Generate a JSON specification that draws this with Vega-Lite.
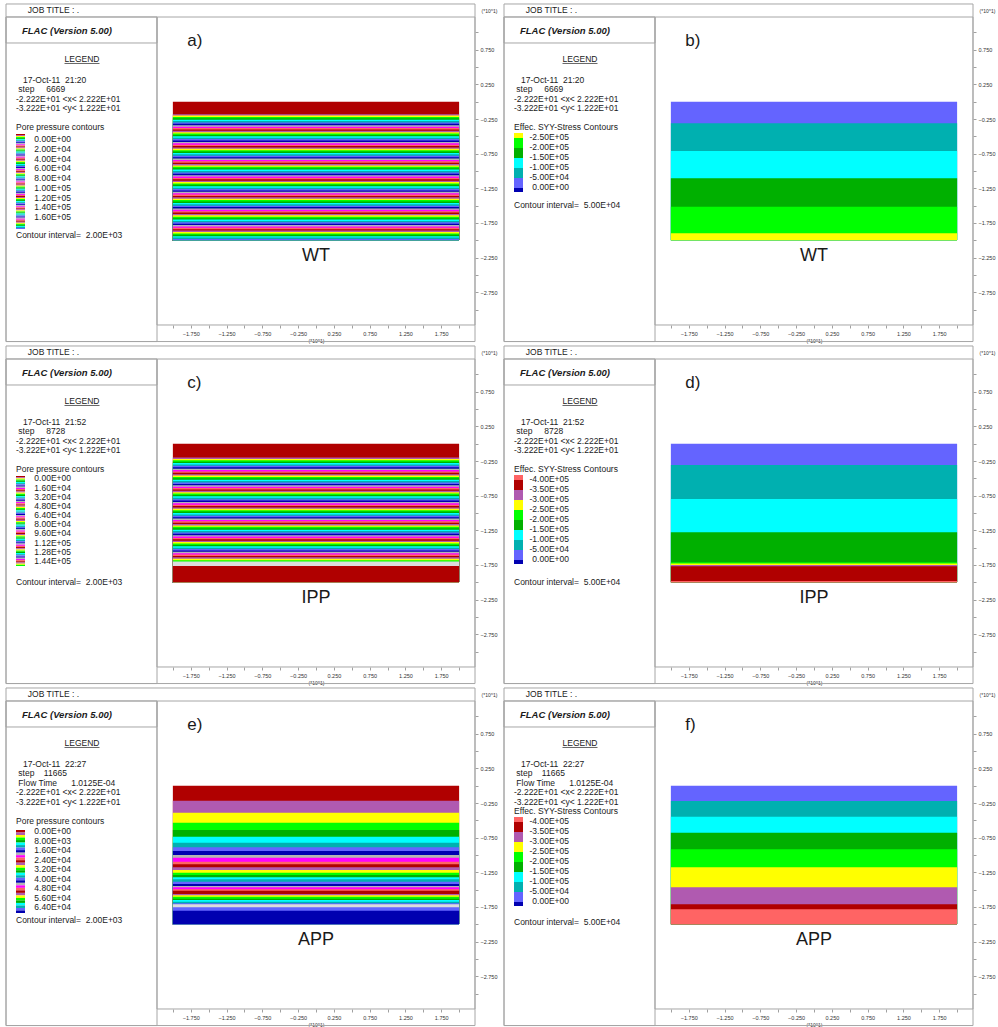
{"$schema":"https://vega.github.io/schema/vega-lite/v6.json","padding":0,"background":"white","columns":2,"spacing":0,"bounds":"flush",
"datasets":{
"lines":[
{"p":"a","n":-7.32,"s":"\u200b\u00a0\u00a0\u00a0\u00a0\u00a0JOB TITLE : ."},{"p":"a","n":0,"s":"\u200b\u00a0\u00a0\u00a017-Oct-11\u00a0\u00a021:20"},{"p":"a","n":1,"s":"\u200b\u00a0step\u00a0\u00a0\u00a0\u00a0\u00a06669"},{"p":"a","n":2,"s":"-2.222E+01 <x< 2.222E+01"},{"p":"a","n":3,"s":"-3.222E+01 <y< 1.222E+01"},{"p":"a","n":5,"s":"Pore pressure contours"},{"p":"a","n":16.3,"s":"Contour interval=\u00a0\u00a02.00E+03"},
{"p":"b","n":-7.32,"s":"\u200b\u00a0\u00a0\u00a0\u00a0\u00a0JOB TITLE : ."},{"p":"b","n":0,"s":"\u200b\u00a0\u00a0\u00a017-Oct-11\u00a0\u00a021:20"},{"p":"b","n":1,"s":"\u200b\u00a0step\u00a0\u00a0\u00a0\u00a0\u00a06669"},{"p":"b","n":2,"s":"-2.222E+01 <x< 2.222E+01"},{"p":"b","n":3,"s":"-3.222E+01 <y< 1.222E+01"},{"p":"b","n":5,"s":"Effec. SYY-Stress Contours"},{"p":"b","n":13.2,"s":"Contour interval=\u00a0\u00a05.00E+04"},
{"p":"c","n":-7.32,"s":"\u200b\u00a0\u00a0\u00a0\u00a0\u00a0JOB TITLE : ."},{"p":"c","n":0,"s":"\u200b\u00a0\u00a0\u00a017-Oct-11\u00a0\u00a021:52"},{"p":"c","n":1,"s":"\u200b\u00a0step\u00a0\u00a0\u00a0\u00a0\u00a08728"},{"p":"c","n":2,"s":"-2.222E+01 <x< 2.222E+01"},{"p":"c","n":3,"s":"-3.222E+01 <y< 1.222E+01"},{"p":"c","n":5,"s":"Pore pressure contours"},{"p":"c","n":16.8,"s":"Contour interval=\u00a0\u00a02.00E+03"},
{"p":"d","n":-7.32,"s":"\u200b\u00a0\u00a0\u00a0\u00a0\u00a0JOB TITLE : ."},{"p":"d","n":0,"s":"\u200b\u00a0\u00a0\u00a017-Oct-11\u00a0\u00a021:52"},{"p":"d","n":1,"s":"\u200b\u00a0step\u00a0\u00a0\u00a0\u00a0\u00a08728"},{"p":"d","n":2,"s":"-2.222E+01 <x< 2.222E+01"},{"p":"d","n":3,"s":"-3.222E+01 <y< 1.222E+01"},{"p":"d","n":5,"s":"Effec. SYY-Stress Contours"},{"p":"d","n":16.8,"s":"Contour interval=\u00a0\u00a05.00E+04"},
{"p":"e","n":-7.32,"s":"\u200b\u00a0\u00a0\u00a0\u00a0\u00a0JOB TITLE : ."},{"p":"e","n":0,"s":"\u200b\u00a0\u00a0\u00a017-Oct-11\u00a0\u00a022:27"},{"p":"e","n":1,"s":"\u200b\u00a0step\u00a0\u00a0\u00a0\u00a011665"},{"p":"e","n":2,"s":"\u200b\u00a0Flow Time\u00a0\u00a0\u00a0\u00a0\u00a0\u00a01.0125E-04"},{"p":"e","n":3,"s":"-2.222E+01 <x< 2.222E+01"},{"p":"e","n":4,"s":"-3.222E+01 <y< 1.222E+01"},{"p":"e","n":6,"s":"Pore pressure contours"},{"p":"e","n":16.4,"s":"Contour interval=\u00a0\u00a02.00E+03"},
{"p":"f","n":-7.32,"s":"\u200b\u00a0\u00a0\u00a0\u00a0\u00a0JOB TITLE : ."},{"p":"f","n":0,"s":"\u200b\u00a0\u00a0\u00a017-Oct-11\u00a0\u00a022:27"},{"p":"f","n":1,"s":"\u200b\u00a0step\u00a0\u00a0\u00a0\u00a011665"},{"p":"f","n":2,"s":"\u200b\u00a0Flow Time\u00a0\u00a0\u00a0\u00a0\u00a0\u00a01.0125E-04"},{"p":"f","n":3,"s":"-2.222E+01 <x< 2.222E+01"},{"p":"f","n":4,"s":"-3.222E+01 <y< 1.222E+01"},{"p":"f","n":5,"s":"Effec. SYY-Stress Contours"},{"p":"f","n":16.6,"s":"Contour interval=\u00a0\u00a05.00E+04"}
],
"labels":[
{"p":"a","lab":"0.00E+00","v":0},{"p":"a","lab":"2.00E+04","v":20000},{"p":"a","lab":"4.00E+04","v":40000},{"p":"a","lab":"6.00E+04","v":60000},{"p":"a","lab":"8.00E+04","v":80000},{"p":"a","lab":"1.00E+05","v":100000},{"p":"a","lab":"1.20E+05","v":120000},{"p":"a","lab":"1.40E+05","v":140000},{"p":"a","lab":"1.60E+05","v":160000},
{"p":"b","lab":"-2.50E+05","v":-250000},{"p":"b","lab":"-2.00E+05","v":-200000},{"p":"b","lab":"-1.50E+05","v":-150000},{"p":"b","lab":"-1.00E+05","v":-100000},{"p":"b","lab":"-5.00E+04","v":-50000},{"p":"b","lab":"0.00E+00","v":0},
{"p":"c","lab":"0.00E+00","v":0},{"p":"c","lab":"1.60E+04","v":16000},{"p":"c","lab":"3.20E+04","v":32000},{"p":"c","lab":"4.80E+04","v":48000},{"p":"c","lab":"6.40E+04","v":64000},{"p":"c","lab":"8.00E+04","v":80000},{"p":"c","lab":"9.60E+04","v":96000},{"p":"c","lab":"1.12E+05","v":112000},{"p":"c","lab":"1.28E+05","v":128000},{"p":"c","lab":"1.44E+05","v":144000},
{"p":"d","lab":"-4.00E+05","v":-400000},{"p":"d","lab":"-3.50E+05","v":-350000},{"p":"d","lab":"-3.00E+05","v":-300000},{"p":"d","lab":"-2.50E+05","v":-250000},{"p":"d","lab":"-2.00E+05","v":-200000},{"p":"d","lab":"-1.50E+05","v":-150000},{"p":"d","lab":"-1.00E+05","v":-100000},{"p":"d","lab":"-5.00E+04","v":-50000},{"p":"d","lab":"0.00E+00","v":0},
{"p":"e","lab":"0.00E+00","v":0},{"p":"e","lab":"8.00E+03","v":8000},{"p":"e","lab":"1.60E+04","v":16000},{"p":"e","lab":"2.40E+04","v":24000},{"p":"e","lab":"3.20E+04","v":32000},{"p":"e","lab":"4.00E+04","v":40000},{"p":"e","lab":"4.80E+04","v":48000},{"p":"e","lab":"5.60E+04","v":56000},{"p":"e","lab":"6.40E+04","v":64000},
{"p":"f","lab":"-4.00E+05","v":-400000},{"p":"f","lab":"-3.50E+05","v":-350000},{"p":"f","lab":"-3.00E+05","v":-300000},{"p":"f","lab":"-2.50E+05","v":-250000},{"p":"f","lab":"-2.00E+05","v":-200000},{"p":"f","lab":"-1.50E+05","v":-150000},{"p":"f","lab":"-1.00E+05","v":-100000},{"p":"f","lab":"-5.00E+04","v":-50000},{"p":"f","lab":"0.00E+00","v":0}
],
"blocks":[
{"p":"b","c":"ye","lo":-275000,"hi":-250000},{"p":"b","c":"gr","lo":-250000,"hi":-200000},{"p":"b","c":"dg","lo":-200000,"hi":-150000},{"p":"b","c":"cy","lo":-150000,"hi":-100000},{"p":"b","c":"te","lo":-100000,"hi":-50000},{"p":"b","c":"bl","lo":-50000,"hi":0},{"p":"b","c":"db","lo":0,"hi":20000},
{"p":"d","c":"sa","lo":-425000,"hi":-400000},{"p":"d","c":"rd","lo":-400000,"hi":-350000},{"p":"d","c":"pu","lo":-350000,"hi":-300000},{"p":"d","c":"ye","lo":-300000,"hi":-250000},{"p":"d","c":"gr","lo":-250000,"hi":-200000},{"p":"d","c":"dg","lo":-200000,"hi":-150000},{"p":"d","c":"cy","lo":-150000,"hi":-100000},{"p":"d","c":"te","lo":-100000,"hi":-50000},{"p":"d","c":"bl","lo":-50000,"hi":0},{"p":"d","c":"db","lo":0,"hi":20000},
{"p":"f","c":"sa","lo":-425000,"hi":-400000},{"p":"f","c":"rd","lo":-400000,"hi":-350000},{"p":"f","c":"pu","lo":-350000,"hi":-300000},{"p":"f","c":"ye","lo":-300000,"hi":-250000},{"p":"f","c":"gr","lo":-250000,"hi":-200000},{"p":"f","c":"dg","lo":-200000,"hi":-150000},{"p":"f","c":"cy","lo":-150000,"hi":-100000},{"p":"f","c":"te","lo":-100000,"hi":-50000},{"p":"f","c":"bl","lo":-50000,"hi":0},{"p":"f","c":"db","lo":0,"hi":20000}
],
"bands":[
{"p":"a","c":"rd","t":0,"k":0},{"p":"a","c":"pu","t":-0.18,"k":1},{"p":"a","c":"ye","t":-0.2,"k":2},{"p":"a","c":"gr","t":-0.22,"k":3},{"p":"a","c":"dg","t":-0.24,"k":4},{"p":"a","c":"cy","t":-0.26,"k":5},{"p":"a","c":"te","t":-0.28,"k":6},{"p":"a","c":"bl","t":-0.3,"k":7},{"p":"a","c":"db","t":-0.32,"k":8},{"p":"a","c":"gy","t":-0.34,"k":9},{"p":"a","c":"mg","t":-0.36,"k":10},{"p":"a","c":"sa","t":-0.38,"k":11},
{"p":"a","c":"rd","t":-0.4,"k":12},{"p":"a","c":"pu","t":-0.42,"k":13},{"p":"a","c":"ye","t":-0.44,"k":14},{"p":"a","c":"gr","t":-0.46,"k":15},{"p":"a","c":"dg","t":-0.48,"k":16},{"p":"a","c":"cy","t":-0.5,"k":17},{"p":"a","c":"te","t":-0.52,"k":18},{"p":"a","c":"bl","t":-0.54,"k":19},{"p":"a","c":"db","t":-0.56,"k":20},{"p":"a","c":"gy","t":-0.58,"k":21},{"p":"a","c":"mg","t":-0.6,"k":22},{"p":"a","c":"sa","t":-0.62,"k":23},
{"p":"a","c":"rd","t":-0.64,"k":24},{"p":"a","c":"pu","t":-0.66,"k":25},{"p":"a","c":"ye","t":-0.68,"k":26},{"p":"a","c":"gr","t":-0.7,"k":27},{"p":"a","c":"dg","t":-0.72,"k":28},{"p":"a","c":"cy","t":-0.74,"k":29},{"p":"a","c":"te","t":-0.76,"k":30},{"p":"a","c":"bl","t":-0.78,"k":31},{"p":"a","c":"db","t":-0.8,"k":32},{"p":"a","c":"gy","t":-0.82,"k":33},{"p":"a","c":"mg","t":-0.84,"k":34},{"p":"a","c":"sa","t":-0.86,"k":35},
{"p":"a","c":"rd","t":-0.88,"k":36},{"p":"a","c":"pu","t":-0.9,"k":37},{"p":"a","c":"ye","t":-0.92,"k":38},{"p":"a","c":"gr","t":-0.94,"k":39},{"p":"a","c":"dg","t":-0.96,"k":40},{"p":"a","c":"cy","t":-0.98,"k":41},{"p":"a","c":"te","t":-1.0,"k":42},{"p":"a","c":"bl","t":-1.02,"k":43},{"p":"a","c":"db","t":-1.04,"k":44},{"p":"a","c":"gy","t":-1.06,"k":45},{"p":"a","c":"mg","t":-1.08,"k":46},{"p":"a","c":"sa","t":-1.1,"k":47},
{"p":"a","c":"rd","t":-1.12,"k":48},{"p":"a","c":"pu","t":-1.14,"k":49},{"p":"a","c":"ye","t":-1.16,"k":50},{"p":"a","c":"gr","t":-1.18,"k":51},{"p":"a","c":"dg","t":-1.2,"k":52},{"p":"a","c":"cy","t":-1.22,"k":53},{"p":"a","c":"te","t":-1.24,"k":54},{"p":"a","c":"bl","t":-1.26,"k":55},{"p":"a","c":"db","t":-1.28,"k":56},{"p":"a","c":"gy","t":-1.3,"k":57},{"p":"a","c":"mg","t":-1.32,"k":58},{"p":"a","c":"sa","t":-1.34,"k":59},
{"p":"a","c":"rd","t":-1.36,"k":60},{"p":"a","c":"pu","t":-1.38,"k":61},{"p":"a","c":"ye","t":-1.4,"k":62},{"p":"a","c":"gr","t":-1.42,"k":63},{"p":"a","c":"dg","t":-1.44,"k":64},{"p":"a","c":"cy","t":-1.46,"k":65},{"p":"a","c":"te","t":-1.48,"k":66},{"p":"a","c":"bl","t":-1.5,"k":67},{"p":"a","c":"db","t":-1.52,"k":68},{"p":"a","c":"gy","t":-1.54,"k":69},{"p":"a","c":"mg","t":-1.56,"k":70},{"p":"a","c":"sa","t":-1.58,"k":71},
{"p":"a","c":"rd","t":-1.6,"k":72},{"p":"a","c":"pu","t":-1.62,"k":73},{"p":"a","c":"ye","t":-1.64,"k":74},{"p":"a","c":"gr","t":-1.66,"k":75},{"p":"a","c":"dg","t":-1.68,"k":76},{"p":"a","c":"cy","t":-1.7,"k":77},{"p":"a","c":"te","t":-1.72,"k":78},{"p":"a","c":"bl","t":-1.74,"k":79},{"p":"a","c":"db","t":-1.76,"k":80},{"p":"a","c":"gy","t":-1.78,"k":81},{"p":"a","c":"mg","t":-1.8,"k":82},{"p":"a","c":"sa","t":-1.82,"k":83},
{"p":"a","c":"rd","t":-1.84,"k":84},{"p":"a","c":"pu","t":-1.86,"k":85},{"p":"a","c":"ye","t":-1.88,"k":86},{"p":"a","c":"gr","t":-1.9,"k":87},{"p":"a","c":"dg","t":-1.92,"k":88},{"p":"a","c":"cy","t":-1.94,"k":89},{"p":"a","c":"te","t":-1.96,"k":90},{"p":"a","c":"bl","t":-1.98,"k":91},
{"p":"b","c":"bl","t":0},{"p":"b","c":"te","t":-0.312},{"p":"b","c":"cy","t":-0.711},{"p":"b","c":"dg","t":-1.105},{"p":"b","c":"gr","t":-1.515},{"p":"b","c":"ye","t":-1.899},
{"p":"c","c":"rd","t":0,"k":0},{"p":"c","c":"pu","t":-0.2,"k":1},{"p":"c","c":"ye","t":-0.22,"k":2},{"p":"c","c":"gr","t":-0.24,"k":3},{"p":"c","c":"dg","t":-0.26,"k":4},{"p":"c","c":"cy","t":-0.28,"k":5},{"p":"c","c":"te","t":-0.3,"k":6},{"p":"c","c":"bl","t":-0.32,"k":7},{"p":"c","c":"db","t":-0.34,"k":8},{"p":"c","c":"gy","t":-0.36,"k":9},{"p":"c","c":"mg","t":-0.38,"k":10},{"p":"c","c":"sa","t":-0.4,"k":11},
{"p":"c","c":"rd","t":-0.42,"k":12},{"p":"c","c":"pu","t":-0.44,"k":13},{"p":"c","c":"ye","t":-0.46,"k":14},{"p":"c","c":"gr","t":-0.48,"k":15},{"p":"c","c":"dg","t":-0.5,"k":16},{"p":"c","c":"cy","t":-0.52,"k":17},{"p":"c","c":"te","t":-0.54,"k":18},{"p":"c","c":"bl","t":-0.56,"k":19},{"p":"c","c":"db","t":-0.58,"k":20},{"p":"c","c":"gy","t":-0.6,"k":21},{"p":"c","c":"mg","t":-0.62,"k":22},{"p":"c","c":"sa","t":-0.64,"k":23},
{"p":"c","c":"rd","t":-0.66,"k":24},{"p":"c","c":"pu","t":-0.68,"k":25},{"p":"c","c":"ye","t":-0.7,"k":26},{"p":"c","c":"gr","t":-0.72,"k":27},{"p":"c","c":"dg","t":-0.74,"k":28},{"p":"c","c":"cy","t":-0.76,"k":29},{"p":"c","c":"te","t":-0.78,"k":30},{"p":"c","c":"bl","t":-0.8,"k":31},{"p":"c","c":"db","t":-0.82,"k":32},{"p":"c","c":"gy","t":-0.84,"k":33},{"p":"c","c":"mg","t":-0.86,"k":34},{"p":"c","c":"sa","t":-0.88,"k":35},
{"p":"c","c":"rd","t":-0.9,"k":36},{"p":"c","c":"pu","t":-0.92,"k":37},{"p":"c","c":"ye","t":-0.94,"k":38},{"p":"c","c":"gr","t":-0.96,"k":39},{"p":"c","c":"dg","t":-0.98,"k":40},{"p":"c","c":"cy","t":-1.0,"k":41},{"p":"c","c":"te","t":-1.02,"k":42},{"p":"c","c":"bl","t":-1.04,"k":43},{"p":"c","c":"db","t":-1.06,"k":44},{"p":"c","c":"gy","t":-1.08,"k":45},{"p":"c","c":"mg","t":-1.1,"k":46},{"p":"c","c":"sa","t":-1.12,"k":47},
{"p":"c","c":"rd","t":-1.14,"k":48},{"p":"c","c":"pu","t":-1.16,"k":49},{"p":"c","c":"ye","t":-1.18,"k":50},{"p":"c","c":"gr","t":-1.2,"k":51},{"p":"c","c":"dg","t":-1.22,"k":52},{"p":"c","c":"cy","t":-1.24,"k":53},{"p":"c","c":"te","t":-1.26,"k":54},{"p":"c","c":"bl","t":-1.28,"k":55},{"p":"c","c":"db","t":-1.3,"k":56},{"p":"c","c":"gy","t":-1.32,"k":57},{"p":"c","c":"mg","t":-1.34,"k":58},{"p":"c","c":"sa","t":-1.36,"k":59},
{"p":"c","c":"rd","t":-1.38,"k":60},{"p":"c","c":"pu","t":-1.4,"k":61},{"p":"c","c":"ye","t":-1.42,"k":62},{"p":"c","c":"gr","t":-1.44,"k":63},{"p":"c","c":"dg","t":-1.46,"k":64},{"p":"c","c":"cy","t":-1.48,"k":65},{"p":"c","c":"te","t":-1.5,"k":66},{"p":"c","c":"bl","t":-1.52,"k":67},{"p":"c","c":"db","t":-1.54,"k":68},{"p":"c","c":"gy","t":-1.56,"k":69},{"p":"c","c":"mg","t":-1.58,"k":70},{"p":"c","c":"sa","t":-1.6,"k":71},
{"p":"c","c":"rd","t":-1.62,"k":72},{"p":"c","c":"pu","t":-1.64,"k":73},{"p":"c","c":"ye","t":-1.66,"k":74},{"p":"c","c":"gr","t":-1.68,"k":75},{"p":"c","c":"dt","t":-1.7},{"p":"c","c":"rd","t":-1.765},
{"p":"d","c":"bl","t":0},{"p":"d","c":"te","t":-0.307},{"p":"d","c":"cy","t":-0.798},{"p":"d","c":"dg","t":-1.278},{"p":"d","c":"gr","t":-1.711},{"p":"d","c":"ye","t":-1.73},{"p":"d","c":"pu","t":-1.75},{"p":"d","c":"rd","t":-1.77},{"p":"d","c":"sa","t":-1.98},
{"p":"e","c":"rd","t":0,"k":0},{"p":"e","c":"pu","t":-0.216,"k":1},{"p":"e","c":"ye","t":-0.39,"k":2},{"p":"e","c":"gr","t":-0.534,"k":3},{"p":"e","c":"dg","t":-0.639,"k":4},{"p":"e","c":"cy","t":-0.736,"k":5},{"p":"e","c":"te","t":-0.823,"k":6},{"p":"e","c":"bl","t":-0.889,"k":7},{"p":"e","c":"db","t":-0.942,"k":8},{"p":"e","c":"gy","t":-1.0,"k":9},{"p":"e","c":"mg","t":-1.039,"k":10},{"p":"e","c":"sa","t":-1.097,"k":11},
{"p":"e","c":"rd","t":-1.134,"k":12},{"p":"e","c":"pu","t":-1.177,"k":13},{"p":"e","c":"ye","t":-1.216,"k":14},{"p":"e","c":"gr","t":-1.255,"k":15},{"p":"e","c":"dg","t":-1.289,"k":16},{"p":"e","c":"cy","t":-1.322,"k":17},{"p":"e","c":"te","t":-1.351,"k":18},{"p":"e","c":"bl","t":-1.385,"k":19},{"p":"e","c":"db","t":-1.418,"k":20},{"p":"e","c":"gy","t":-1.447,"k":21},{"p":"e","c":"mg","t":-1.466,"k":22},{"p":"e","c":"sa","t":-1.495,"k":23},
{"p":"e","c":"rd","t":-1.515,"k":24},{"p":"e","c":"pu","t":-1.563,"k":25},{"p":"e","c":"ye","t":-1.582,"k":26},{"p":"e","c":"gr","t":-1.602,"k":27},{"p":"e","c":"dg","t":-1.631,"k":28},{"p":"e","c":"cy","t":-1.649,"k":29},{"p":"e","c":"te","t":-1.674,"k":30},{"p":"e","c":"bl","t":-1.697,"k":31},{"p":"e","c":"dt","t":-1.711},{"p":"e","c":"bl","t":-1.755},{"p":"e","c":"db","t":-1.804,"k":32},
{"p":"f","c":"bl","t":0},{"p":"f","c":"te","t":-0.221},{"p":"f","c":"cy","t":-0.447},{"p":"f","c":"dg","t":-0.678},{"p":"f","c":"gr","t":-0.918},{"p":"f","c":"ye","t":-1.177},{"p":"f","c":"pu","t":-1.466},{"p":"f","c":"rd","t":-1.711},{"p":"f","c":"sa","t":-1.784}
]},
"concat":[
{"width":498,"height":342,"resolve":{"scale":{"x":"independent","y":"independent"}},"layer":[
{"data":{"values":[{}]},"mark":{"type":"rect","filled":false,"color":"#a6a6a6"},"encoding":{"x":{"datum":0.6,"type":"quantitative","scale":{"domain":[0,49.8]},"axis":null},"x2":{"datum":47.5},"y":{"datum":-8,"type":"quantitative","scale":{"domain":[-8.421,27.579],"reverse":true},"axis":null},"y2":{"datum":27.53}}},
{"data":{"values":[{}]},"mark":{"type":"rect","filled":false,"color":"#a6a6a6"},"encoding":{"x":{"datum":0.6,"type":"quantitative","scale":{"domain":[0,49.8]},"axis":null},"x2":{"datum":15.7},"y":{"datum":-6.632,"type":"quantitative","scale":{"domain":[-8.421,27.579],"reverse":true},"axis":null},"y2":{"datum":27.53}}},
{"data":{"values":[{}]},"mark":{"type":"rect","filled":false,"color":"#a6a6a6"},"encoding":{"x":{"datum":0.6,"type":"quantitative","scale":{"domain":[0,49.8]},"axis":null},"x2":{"datum":15.7},"y":{"datum":-6.632,"type":"quantitative","scale":{"domain":[-8.421,27.579],"reverse":true},"axis":null},"y2":{"datum":-3.895}}},
{"data":{"values":[{}]},"mark":{"type":"rule","color":"#222","strokeWidth":0.7},"encoding":{"x":{"datum":6.45,"type":"quantitative","scale":{"domain":[0,49.8]},"axis":null},"x2":{"datum":9.95},"y":{"datum":-1.74,"type":"quantitative","scale":{"domain":[-8.421,27.579],"reverse":true},"axis":null}}},
{"data":{"values":[{}]},"mark":{"type":"text","fontSize":9.5,"fontWeight":"bold","fontStyle":"italic"},"encoding":{"x":{"datum":2.2,"type":"quantitative","scale":{"domain":[0,49.8]},"axis":null},"y":{"datum":-5.21,"type":"quantitative","scale":{"domain":[-8.421,27.579],"reverse":true},"axis":null},"text":{"value":"FLAC (Version 5.00)"}}},
{"data":{"values":[{}]},"mark":{"type":"text","align":"center"},"encoding":{"x":{"datum":8.2,"type":"quantitative","scale":{"domain":[0,49.8]},"axis":null},"y":{"datum":-2.25,"type":"quantitative","scale":{"domain":[-8.421,27.579],"reverse":true},"axis":null},"text":{"value":"LEGEND"}}},
{"data":{"name":"lines"},"transform":[{"filter":"datum.p=='a'"}],"mark":{"type":"text"},"encoding":{"x":{"datum":1.6,"type":"quantitative","scale":{"domain":[0,49.8]},"axis":null},"y":{"field":"n","type":"quantitative","scale":{"domain":[-8.421,27.579],"reverse":true},"axis":null},"text":{"field":"s"}}},
{"data":{"name":"bands"},"transform":[{"filter":"datum.p=='a'"}],"mark":{"type":"rect"},"encoding":{"x":{"datum":-2,"type":"quantitative","scale":{"domain":[-4.4156,2.5434]},"axis":{"orient":"bottom","offset":-17,"values":[-2,-1.75,-1.5,-1.25,-1,-0.75,-0.5,-0.25,0,0.25,0.5,0.75,1,1.25,1.5,1.75,2],"labelExpr":"abs(round(datum.value*4))%2==1?format(datum.value,'.3f'):''","labelPadding":3,"title":"(*10^1)","titleX":316,"titleY":15.5}},"x2":{"datum":2},"y":{"field":"t","type":"quantitative","scale":{"domain":[-3.4673,1.4673]},"axis":{"orient":"right","offset":-23,"values":[1,0.75,0.5,0.25,0,-0.25,-0.5,-0.75,-1,-1.25,-1.5,-1.75,-2,-2.25,-2.5,-2.75,-3],"labelExpr":"abs(round(datum.value*4))%2==1?format(datum.value,'.3f'):''","labelPadding":2,"title":"(*10^1)","titleAngle":0,"titleX":14,"titleY":10}},"y2":{"datum":-2},"color":{"field":"c","type":"nominal","scale":{"domain":["rd","pu","ye","gr","dg","cy","te","bl","db","gy","mg","sa","dt"]},"legend":null}}},
{"data":{"values":[{}]},"mark":{"type":"rect","filled":false,"color":"#a6a6a6"},"encoding":{"x":{"datum":-2.222,"type":"quantitative","scale":{"domain":[-4.4156,2.5434]},"axis":null},"x2":{"datum":2.222},"y":{"datum":-3.222,"type":"quantitative","scale":{"domain":[-3.4673,1.4673]},"axis":null},"y2":{"datum":1.222}}},
{"data":{"values":[{}]},"mark":{"type":"text","fontSize":17},"encoding":{"x":{"datum":-1.8,"type":"quantitative","scale":{"domain":[-4.4156,2.5434]},"axis":null},"y":{"datum":0.876,"type":"quantitative","scale":{"domain":[-3.4673,1.4673]},"axis":null},"text":{"value":"a)"}}},
{"data":{"values":[{}]},"mark":{"type":"text","fontSize":18,"align":"center"},"encoding":{"x":{"datum":0,"type":"quantitative","scale":{"domain":[-4.4156,2.5434]},"axis":null},"y":{"datum":-2.226,"type":"quantitative","scale":{"domain":[-3.4673,1.4673]},"axis":null},"text":{"value":"WT"}}},
{"data":{"name":"bands"},"transform":[{"filter":"datum.p=='a' && isValid(datum.k)"}],"mark":{"type":"rect"},"encoding":{"x":{"datum":1.6,"type":"quantitative","scale":{"domain":[0,49.8]},"axis":null},"x2":{"datum":2.5},"y":{"field":"k","type":"ordinal","scale":{"range":[134,229],"paddingInner":0,"paddingOuter":0},"axis":null},"color":{"field":"c","type":"nominal","scale":{"domain":["rd","pu","ye","gr","dg","cy","te","bl","db","gy","mg","sa","dt"]},"legend":null}}},
{"data":{"name":"labels"},"transform":[{"filter":"datum.p=='a'"}],"mark":{"type":"text","align":"right","dy":-1},"encoding":{"x":{"datum":7.1,"type":"quantitative","scale":{"domain":[0,49.8]},"axis":null},"y":{"field":"v","type":"quantitative","scale":{"domain":[-287140,414302],"reverse":true},"axis":null},"text":{"field":"lab"}}}
]},
{"width":498,"height":342,"resolve":{"scale":{"x":"independent","y":"independent"}},"layer":[
{"data":{"values":[{}]},"mark":{"type":"rect","filled":false,"color":"#a6a6a6"},"encoding":{"x":{"datum":0.6,"type":"quantitative","scale":{"domain":[0,49.8]},"axis":null},"x2":{"datum":47.5},"y":{"datum":-8,"type":"quantitative","scale":{"domain":[-8.421,27.579],"reverse":true},"axis":null},"y2":{"datum":27.53}}},
{"data":{"values":[{}]},"mark":{"type":"rect","filled":false,"color":"#a6a6a6"},"encoding":{"x":{"datum":0.6,"type":"quantitative","scale":{"domain":[0,49.8]},"axis":null},"x2":{"datum":15.7},"y":{"datum":-6.632,"type":"quantitative","scale":{"domain":[-8.421,27.579],"reverse":true},"axis":null},"y2":{"datum":27.53}}},
{"data":{"values":[{}]},"mark":{"type":"rect","filled":false,"color":"#a6a6a6"},"encoding":{"x":{"datum":0.6,"type":"quantitative","scale":{"domain":[0,49.8]},"axis":null},"x2":{"datum":15.7},"y":{"datum":-6.632,"type":"quantitative","scale":{"domain":[-8.421,27.579],"reverse":true},"axis":null},"y2":{"datum":-3.895}}},
{"data":{"values":[{}]},"mark":{"type":"rule","color":"#222","strokeWidth":0.7},"encoding":{"x":{"datum":6.45,"type":"quantitative","scale":{"domain":[0,49.8]},"axis":null},"x2":{"datum":9.95},"y":{"datum":-1.74,"type":"quantitative","scale":{"domain":[-8.421,27.579],"reverse":true},"axis":null}}},
{"data":{"values":[{}]},"mark":{"type":"text","fontSize":9.5,"fontWeight":"bold","fontStyle":"italic"},"encoding":{"x":{"datum":2.2,"type":"quantitative","scale":{"domain":[0,49.8]},"axis":null},"y":{"datum":-5.21,"type":"quantitative","scale":{"domain":[-8.421,27.579],"reverse":true},"axis":null},"text":{"value":"FLAC (Version 5.00)"}}},
{"data":{"values":[{}]},"mark":{"type":"text","align":"center"},"encoding":{"x":{"datum":8.2,"type":"quantitative","scale":{"domain":[0,49.8]},"axis":null},"y":{"datum":-2.25,"type":"quantitative","scale":{"domain":[-8.421,27.579],"reverse":true},"axis":null},"text":{"value":"LEGEND"}}},
{"data":{"name":"lines"},"transform":[{"filter":"datum.p=='b'"}],"mark":{"type":"text"},"encoding":{"x":{"datum":1.6,"type":"quantitative","scale":{"domain":[0,49.8]},"axis":null},"y":{"field":"n","type":"quantitative","scale":{"domain":[-8.421,27.579],"reverse":true},"axis":null},"text":{"field":"s"}}},
{"data":{"name":"bands"},"transform":[{"filter":"datum.p=='b'"}],"mark":{"type":"rect"},"encoding":{"x":{"datum":-2,"type":"quantitative","scale":{"domain":[-4.4156,2.5434]},"axis":{"orient":"bottom","offset":-17,"values":[-2,-1.75,-1.5,-1.25,-1,-0.75,-0.5,-0.25,0,0.25,0.5,0.75,1,1.25,1.5,1.75,2],"labelExpr":"abs(round(datum.value*4))%2==1?format(datum.value,'.3f'):''","labelPadding":3,"title":"(*10^1)","titleX":316,"titleY":15.5}},"x2":{"datum":2},"y":{"field":"t","type":"quantitative","scale":{"domain":[-3.4673,1.4673]},"axis":{"orient":"right","offset":-23,"values":[1,0.75,0.5,0.25,0,-0.25,-0.5,-0.75,-1,-1.25,-1.5,-1.75,-2,-2.25,-2.5,-2.75,-3],"labelExpr":"abs(round(datum.value*4))%2==1?format(datum.value,'.3f'):''","labelPadding":2,"title":"(*10^1)","titleAngle":0,"titleX":14,"titleY":10}},"y2":{"datum":-2},"color":{"field":"c","type":"nominal","scale":{"domain":["rd","pu","ye","gr","dg","cy","te","bl","db","gy","mg","sa","dt"]},"legend":null}}},
{"data":{"values":[{}]},"mark":{"type":"rect","filled":false,"color":"#a6a6a6"},"encoding":{"x":{"datum":-2.222,"type":"quantitative","scale":{"domain":[-4.4156,2.5434]},"axis":null},"x2":{"datum":2.222},"y":{"datum":-3.222,"type":"quantitative","scale":{"domain":[-3.4673,1.4673]},"axis":null},"y2":{"datum":1.222}}},
{"data":{"values":[{}]},"mark":{"type":"text","fontSize":17},"encoding":{"x":{"datum":-1.8,"type":"quantitative","scale":{"domain":[-4.4156,2.5434]},"axis":null},"y":{"datum":0.876,"type":"quantitative","scale":{"domain":[-3.4673,1.4673]},"axis":null},"text":{"value":"b)"}}},
{"data":{"values":[{}]},"mark":{"type":"text","fontSize":18,"align":"center"},"encoding":{"x":{"datum":0,"type":"quantitative","scale":{"domain":[-4.4156,2.5434]},"axis":null},"y":{"datum":-2.226,"type":"quantitative","scale":{"domain":[-3.4673,1.4673]},"axis":null},"text":{"value":"WT"}}},
{"data":{"name":"blocks"},"transform":[{"filter":"datum.p=='b'"}],"mark":{"type":"rect"},"encoding":{"x":{"datum":1.6,"type":"quantitative","scale":{"domain":[0,49.8]},"axis":null},"x2":{"datum":2.5},"y":{"field":"lo","type":"quantitative","scale":{"domain":[-940000,770000],"reverse":true},"axis":null},"y2":{"field":"hi"},"color":{"field":"c","type":"nominal","scale":{"domain":["rd","pu","ye","gr","dg","cy","te","bl","db","gy","mg","sa","dt"]},"legend":null}}},
{"data":{"name":"labels"},"transform":[{"filter":"datum.p=='b'"}],"mark":{"type":"text","align":"right","dy":-1},"encoding":{"x":{"datum":7.1,"type":"quantitative","scale":{"domain":[0,49.8]},"axis":null},"y":{"field":"v","type":"quantitative","scale":{"domain":[-940000,770000],"reverse":true},"axis":null},"text":{"field":"lab"}}}
]},
{"width":498,"height":342,"resolve":{"scale":{"x":"independent","y":"independent"}},"layer":[
{"data":{"values":[{}]},"mark":{"type":"rect","filled":false,"color":"#a6a6a6"},"encoding":{"x":{"datum":0.6,"type":"quantitative","scale":{"domain":[0,49.8]},"axis":null},"x2":{"datum":47.5},"y":{"datum":-8,"type":"quantitative","scale":{"domain":[-8.421,27.579],"reverse":true},"axis":null},"y2":{"datum":27.53}}},
{"data":{"values":[{}]},"mark":{"type":"rect","filled":false,"color":"#a6a6a6"},"encoding":{"x":{"datum":0.6,"type":"quantitative","scale":{"domain":[0,49.8]},"axis":null},"x2":{"datum":15.7},"y":{"datum":-6.632,"type":"quantitative","scale":{"domain":[-8.421,27.579],"reverse":true},"axis":null},"y2":{"datum":27.53}}},
{"data":{"values":[{}]},"mark":{"type":"rect","filled":false,"color":"#a6a6a6"},"encoding":{"x":{"datum":0.6,"type":"quantitative","scale":{"domain":[0,49.8]},"axis":null},"x2":{"datum":15.7},"y":{"datum":-6.632,"type":"quantitative","scale":{"domain":[-8.421,27.579],"reverse":true},"axis":null},"y2":{"datum":-3.895}}},
{"data":{"values":[{}]},"mark":{"type":"rule","color":"#222","strokeWidth":0.7},"encoding":{"x":{"datum":6.45,"type":"quantitative","scale":{"domain":[0,49.8]},"axis":null},"x2":{"datum":9.95},"y":{"datum":-1.74,"type":"quantitative","scale":{"domain":[-8.421,27.579],"reverse":true},"axis":null}}},
{"data":{"values":[{}]},"mark":{"type":"text","fontSize":9.5,"fontWeight":"bold","fontStyle":"italic"},"encoding":{"x":{"datum":2.2,"type":"quantitative","scale":{"domain":[0,49.8]},"axis":null},"y":{"datum":-5.21,"type":"quantitative","scale":{"domain":[-8.421,27.579],"reverse":true},"axis":null},"text":{"value":"FLAC (Version 5.00)"}}},
{"data":{"values":[{}]},"mark":{"type":"text","align":"center"},"encoding":{"x":{"datum":8.2,"type":"quantitative","scale":{"domain":[0,49.8]},"axis":null},"y":{"datum":-2.25,"type":"quantitative","scale":{"domain":[-8.421,27.579],"reverse":true},"axis":null},"text":{"value":"LEGEND"}}},
{"data":{"name":"lines"},"transform":[{"filter":"datum.p=='c'"}],"mark":{"type":"text"},"encoding":{"x":{"datum":1.6,"type":"quantitative","scale":{"domain":[0,49.8]},"axis":null},"y":{"field":"n","type":"quantitative","scale":{"domain":[-8.421,27.579],"reverse":true},"axis":null},"text":{"field":"s"}}},
{"data":{"name":"bands"},"transform":[{"filter":"datum.p=='c'"}],"mark":{"type":"rect"},"encoding":{"x":{"datum":-2,"type":"quantitative","scale":{"domain":[-4.4156,2.5434]},"axis":{"orient":"bottom","offset":-17,"values":[-2,-1.75,-1.5,-1.25,-1,-0.75,-0.5,-0.25,0,0.25,0.5,0.75,1,1.25,1.5,1.75,2],"labelExpr":"abs(round(datum.value*4))%2==1?format(datum.value,'.3f'):''","labelPadding":3,"title":"(*10^1)","titleX":316,"titleY":15.5}},"x2":{"datum":2},"y":{"field":"t","type":"quantitative","scale":{"domain":[-3.4673,1.4673]},"axis":{"orient":"right","offset":-23,"values":[1,0.75,0.5,0.25,0,-0.25,-0.5,-0.75,-1,-1.25,-1.5,-1.75,-2,-2.25,-2.5,-2.75,-3],"labelExpr":"abs(round(datum.value*4))%2==1?format(datum.value,'.3f'):''","labelPadding":2,"title":"(*10^1)","titleAngle":0,"titleX":14,"titleY":10}},"y2":{"datum":-2},"color":{"field":"c","type":"nominal","scale":{"domain":["rd","pu","ye","gr","dg","cy","te","bl","db","gy","mg","sa","dt"]},"legend":null}}},
{"data":{"values":[{}]},"mark":{"type":"rect","filled":false,"color":"#a6a6a6"},"encoding":{"x":{"datum":-2.222,"type":"quantitative","scale":{"domain":[-4.4156,2.5434]},"axis":null},"x2":{"datum":2.222},"y":{"datum":-3.222,"type":"quantitative","scale":{"domain":[-3.4673,1.4673]},"axis":null},"y2":{"datum":1.222}}},
{"data":{"values":[{}]},"mark":{"type":"text","fontSize":17},"encoding":{"x":{"datum":-1.8,"type":"quantitative","scale":{"domain":[-4.4156,2.5434]},"axis":null},"y":{"datum":0.876,"type":"quantitative","scale":{"domain":[-3.4673,1.4673]},"axis":null},"text":{"value":"c)"}}},
{"data":{"values":[{}]},"mark":{"type":"text","fontSize":18,"align":"center"},"encoding":{"x":{"datum":0,"type":"quantitative","scale":{"domain":[-4.4156,2.5434]},"axis":null},"y":{"datum":-2.226,"type":"quantitative","scale":{"domain":[-3.4673,1.4673]},"axis":null},"text":{"value":"IPP"}}},
{"data":{"name":"bands"},"transform":[{"filter":"datum.p=='c' && isValid(datum.k)"}],"mark":{"type":"rect"},"encoding":{"x":{"datum":1.6,"type":"quantitative","scale":{"domain":[0,49.8]},"axis":null},"x2":{"datum":2.5},"y":{"field":"k","type":"ordinal","scale":{"range":[134,224],"paddingInner":0,"paddingOuter":0},"axis":null},"color":{"field":"c","type":"nominal","scale":{"domain":["rd","pu","ye","gr","dg","cy","te","bl","db","gy","mg","sa","dt"]},"legend":null}}},
{"data":{"name":"labels"},"transform":[{"filter":"datum.p=='c'"}],"mark":{"type":"text","align":"right","dy":-1},"encoding":{"x":{"datum":7.1,"type":"quantitative","scale":{"domain":[0,49.8]},"axis":null},"y":{"field":"v","type":"quantitative","scale":{"domain":[-240437,357596],"reverse":true},"axis":null},"text":{"field":"lab"}}}
]},
{"width":498,"height":342,"resolve":{"scale":{"x":"independent","y":"independent"}},"layer":[
{"data":{"values":[{}]},"mark":{"type":"rect","filled":false,"color":"#a6a6a6"},"encoding":{"x":{"datum":0.6,"type":"quantitative","scale":{"domain":[0,49.8]},"axis":null},"x2":{"datum":47.5},"y":{"datum":-8,"type":"quantitative","scale":{"domain":[-8.421,27.579],"reverse":true},"axis":null},"y2":{"datum":27.53}}},
{"data":{"values":[{}]},"mark":{"type":"rect","filled":false,"color":"#a6a6a6"},"encoding":{"x":{"datum":0.6,"type":"quantitative","scale":{"domain":[0,49.8]},"axis":null},"x2":{"datum":15.7},"y":{"datum":-6.632,"type":"quantitative","scale":{"domain":[-8.421,27.579],"reverse":true},"axis":null},"y2":{"datum":27.53}}},
{"data":{"values":[{}]},"mark":{"type":"rect","filled":false,"color":"#a6a6a6"},"encoding":{"x":{"datum":0.6,"type":"quantitative","scale":{"domain":[0,49.8]},"axis":null},"x2":{"datum":15.7},"y":{"datum":-6.632,"type":"quantitative","scale":{"domain":[-8.421,27.579],"reverse":true},"axis":null},"y2":{"datum":-3.895}}},
{"data":{"values":[{}]},"mark":{"type":"rule","color":"#222","strokeWidth":0.7},"encoding":{"x":{"datum":6.45,"type":"quantitative","scale":{"domain":[0,49.8]},"axis":null},"x2":{"datum":9.95},"y":{"datum":-1.74,"type":"quantitative","scale":{"domain":[-8.421,27.579],"reverse":true},"axis":null}}},
{"data":{"values":[{}]},"mark":{"type":"text","fontSize":9.5,"fontWeight":"bold","fontStyle":"italic"},"encoding":{"x":{"datum":2.2,"type":"quantitative","scale":{"domain":[0,49.8]},"axis":null},"y":{"datum":-5.21,"type":"quantitative","scale":{"domain":[-8.421,27.579],"reverse":true},"axis":null},"text":{"value":"FLAC (Version 5.00)"}}},
{"data":{"values":[{}]},"mark":{"type":"text","align":"center"},"encoding":{"x":{"datum":8.2,"type":"quantitative","scale":{"domain":[0,49.8]},"axis":null},"y":{"datum":-2.25,"type":"quantitative","scale":{"domain":[-8.421,27.579],"reverse":true},"axis":null},"text":{"value":"LEGEND"}}},
{"data":{"name":"lines"},"transform":[{"filter":"datum.p=='d'"}],"mark":{"type":"text"},"encoding":{"x":{"datum":1.6,"type":"quantitative","scale":{"domain":[0,49.8]},"axis":null},"y":{"field":"n","type":"quantitative","scale":{"domain":[-8.421,27.579],"reverse":true},"axis":null},"text":{"field":"s"}}},
{"data":{"name":"bands"},"transform":[{"filter":"datum.p=='d'"}],"mark":{"type":"rect"},"encoding":{"x":{"datum":-2,"type":"quantitative","scale":{"domain":[-4.4156,2.5434]},"axis":{"orient":"bottom","offset":-17,"values":[-2,-1.75,-1.5,-1.25,-1,-0.75,-0.5,-0.25,0,0.25,0.5,0.75,1,1.25,1.5,1.75,2],"labelExpr":"abs(round(datum.value*4))%2==1?format(datum.value,'.3f'):''","labelPadding":3,"title":"(*10^1)","titleX":316,"titleY":15.5}},"x2":{"datum":2},"y":{"field":"t","type":"quantitative","scale":{"domain":[-3.4673,1.4673]},"axis":{"orient":"right","offset":-23,"values":[1,0.75,0.5,0.25,0,-0.25,-0.5,-0.75,-1,-1.25,-1.5,-1.75,-2,-2.25,-2.5,-2.75,-3],"labelExpr":"abs(round(datum.value*4))%2==1?format(datum.value,'.3f'):''","labelPadding":2,"title":"(*10^1)","titleAngle":0,"titleX":14,"titleY":10}},"y2":{"datum":-2},"color":{"field":"c","type":"nominal","scale":{"domain":["rd","pu","ye","gr","dg","cy","te","bl","db","gy","mg","sa","dt"]},"legend":null}}},
{"data":{"values":[{}]},"mark":{"type":"rect","filled":false,"color":"#a6a6a6"},"encoding":{"x":{"datum":-2.222,"type":"quantitative","scale":{"domain":[-4.4156,2.5434]},"axis":null},"x2":{"datum":2.222},"y":{"datum":-3.222,"type":"quantitative","scale":{"domain":[-3.4673,1.4673]},"axis":null},"y2":{"datum":1.222}}},
{"data":{"values":[{}]},"mark":{"type":"text","fontSize":17},"encoding":{"x":{"datum":-1.8,"type":"quantitative","scale":{"domain":[-4.4156,2.5434]},"axis":null},"y":{"datum":0.876,"type":"quantitative","scale":{"domain":[-3.4673,1.4673]},"axis":null},"text":{"value":"d)"}}},
{"data":{"values":[{}]},"mark":{"type":"text","fontSize":18,"align":"center"},"encoding":{"x":{"datum":0,"type":"quantitative","scale":{"domain":[-4.4156,2.5434]},"axis":null},"y":{"datum":-2.226,"type":"quantitative","scale":{"domain":[-3.4673,1.4673]},"axis":null},"text":{"value":"IPP"}}},
{"data":{"name":"blocks"},"transform":[{"filter":"datum.p=='d'"}],"mark":{"type":"rect"},"encoding":{"x":{"datum":1.6,"type":"quantitative","scale":{"domain":[0,49.8]},"axis":null},"x2":{"datum":2.5},"y":{"field":"lo","type":"quantitative","scale":{"domain":[-1090000,620000],"reverse":true},"axis":null},"y2":{"field":"hi"},"color":{"field":"c","type":"nominal","scale":{"domain":["rd","pu","ye","gr","dg","cy","te","bl","db","gy","mg","sa","dt"]},"legend":null}}},
{"data":{"name":"labels"},"transform":[{"filter":"datum.p=='d'"}],"mark":{"type":"text","align":"right","dy":-1},"encoding":{"x":{"datum":7.1,"type":"quantitative","scale":{"domain":[0,49.8]},"axis":null},"y":{"field":"v","type":"quantitative","scale":{"domain":[-1090000,620000],"reverse":true},"axis":null},"text":{"field":"lab"}}}
]},
{"width":498,"height":342,"resolve":{"scale":{"x":"independent","y":"independent"}},"layer":[
{"data":{"values":[{}]},"mark":{"type":"rect","filled":false,"color":"#a6a6a6"},"encoding":{"x":{"datum":0.6,"type":"quantitative","scale":{"domain":[0,49.8]},"axis":null},"x2":{"datum":47.5},"y":{"datum":-8,"type":"quantitative","scale":{"domain":[-8.421,27.579],"reverse":true},"axis":null},"y2":{"datum":27.53}}},
{"data":{"values":[{}]},"mark":{"type":"rect","filled":false,"color":"#a6a6a6"},"encoding":{"x":{"datum":0.6,"type":"quantitative","scale":{"domain":[0,49.8]},"axis":null},"x2":{"datum":15.7},"y":{"datum":-6.632,"type":"quantitative","scale":{"domain":[-8.421,27.579],"reverse":true},"axis":null},"y2":{"datum":27.53}}},
{"data":{"values":[{}]},"mark":{"type":"rect","filled":false,"color":"#a6a6a6"},"encoding":{"x":{"datum":0.6,"type":"quantitative","scale":{"domain":[0,49.8]},"axis":null},"x2":{"datum":15.7},"y":{"datum":-6.632,"type":"quantitative","scale":{"domain":[-8.421,27.579],"reverse":true},"axis":null},"y2":{"datum":-3.895}}},
{"data":{"values":[{}]},"mark":{"type":"rule","color":"#222","strokeWidth":0.7},"encoding":{"x":{"datum":6.45,"type":"quantitative","scale":{"domain":[0,49.8]},"axis":null},"x2":{"datum":9.95},"y":{"datum":-1.74,"type":"quantitative","scale":{"domain":[-8.421,27.579],"reverse":true},"axis":null}}},
{"data":{"values":[{}]},"mark":{"type":"text","fontSize":9.5,"fontWeight":"bold","fontStyle":"italic"},"encoding":{"x":{"datum":2.2,"type":"quantitative","scale":{"domain":[0,49.8]},"axis":null},"y":{"datum":-5.21,"type":"quantitative","scale":{"domain":[-8.421,27.579],"reverse":true},"axis":null},"text":{"value":"FLAC (Version 5.00)"}}},
{"data":{"values":[{}]},"mark":{"type":"text","align":"center"},"encoding":{"x":{"datum":8.2,"type":"quantitative","scale":{"domain":[0,49.8]},"axis":null},"y":{"datum":-2.25,"type":"quantitative","scale":{"domain":[-8.421,27.579],"reverse":true},"axis":null},"text":{"value":"LEGEND"}}},
{"data":{"name":"lines"},"transform":[{"filter":"datum.p=='e'"}],"mark":{"type":"text"},"encoding":{"x":{"datum":1.6,"type":"quantitative","scale":{"domain":[0,49.8]},"axis":null},"y":{"field":"n","type":"quantitative","scale":{"domain":[-8.421,27.579],"reverse":true},"axis":null},"text":{"field":"s"}}},
{"data":{"name":"bands"},"transform":[{"filter":"datum.p=='e'"}],"mark":{"type":"rect"},"encoding":{"x":{"datum":-2,"type":"quantitative","scale":{"domain":[-4.4156,2.5434]},"axis":{"orient":"bottom","offset":-17,"values":[-2,-1.75,-1.5,-1.25,-1,-0.75,-0.5,-0.25,0,0.25,0.5,0.75,1,1.25,1.5,1.75,2],"labelExpr":"abs(round(datum.value*4))%2==1?format(datum.value,'.3f'):''","labelPadding":3,"title":"(*10^1)","titleX":316,"titleY":15.5}},"x2":{"datum":2},"y":{"field":"t","type":"quantitative","scale":{"domain":[-3.4673,1.4673]},"axis":{"orient":"right","offset":-23,"values":[1,0.75,0.5,0.25,0,-0.25,-0.5,-0.75,-1,-1.25,-1.5,-1.75,-2,-2.25,-2.5,-2.75,-3],"labelExpr":"abs(round(datum.value*4))%2==1?format(datum.value,'.3f'):''","labelPadding":2,"title":"(*10^1)","titleAngle":0,"titleX":14,"titleY":10}},"y2":{"datum":-2},"color":{"field":"c","type":"nominal","scale":{"domain":["rd","pu","ye","gr","dg","cy","te","bl","db","gy","mg","sa","dt"]},"legend":null}}},
{"data":{"values":[{}]},"mark":{"type":"rect","filled":false,"color":"#a6a6a6"},"encoding":{"x":{"datum":-2.222,"type":"quantitative","scale":{"domain":[-4.4156,2.5434]},"axis":null},"x2":{"datum":2.222},"y":{"datum":-3.222,"type":"quantitative","scale":{"domain":[-3.4673,1.4673]},"axis":null},"y2":{"datum":1.222}}},
{"data":{"values":[{}]},"mark":{"type":"text","fontSize":17},"encoding":{"x":{"datum":-1.8,"type":"quantitative","scale":{"domain":[-4.4156,2.5434]},"axis":null},"y":{"datum":0.876,"type":"quantitative","scale":{"domain":[-3.4673,1.4673]},"axis":null},"text":{"value":"e)"}}},
{"data":{"values":[{}]},"mark":{"type":"text","fontSize":18,"align":"center"},"encoding":{"x":{"datum":0,"type":"quantitative","scale":{"domain":[-4.4156,2.5434]},"axis":null},"y":{"datum":-2.226,"type":"quantitative","scale":{"domain":[-3.4673,1.4673]},"axis":null},"text":{"value":"APP"}}},
{"data":{"name":"bands"},"transform":[{"filter":"datum.p=='e' && isValid(datum.k)"}],"mark":{"type":"rect"},"encoding":{"x":{"datum":1.6,"type":"quantitative","scale":{"domain":[0,49.8]},"axis":null},"x2":{"datum":2.5},"y":{"field":"k","type":"ordinal","scale":{"range":[146,229],"paddingInner":0,"paddingOuter":0},"axis":null},"color":{"field":"c","type":"nominal","scale":{"domain":["rd","pu","ye","gr","dg","cy","te","bl","db","gy","mg","sa","dt"]},"legend":null}}},
{"data":{"name":"labels"},"transform":[{"filter":"datum.p=='e'"}],"mark":{"type":"text","align":"right","dy":-1},"encoding":{"x":{"datum":7.1,"type":"quantitative","scale":{"domain":[0,49.8]},"axis":null},"y":{"field":"v","type":"quantitative","scale":{"domain":[-124632,163368],"reverse":true},"axis":null},"text":{"field":"lab"}}}
]},
{"width":498,"height":342,"resolve":{"scale":{"x":"independent","y":"independent"}},"layer":[
{"data":{"values":[{}]},"mark":{"type":"rect","filled":false,"color":"#a6a6a6"},"encoding":{"x":{"datum":0.6,"type":"quantitative","scale":{"domain":[0,49.8]},"axis":null},"x2":{"datum":47.5},"y":{"datum":-8,"type":"quantitative","scale":{"domain":[-8.421,27.579],"reverse":true},"axis":null},"y2":{"datum":27.53}}},
{"data":{"values":[{}]},"mark":{"type":"rect","filled":false,"color":"#a6a6a6"},"encoding":{"x":{"datum":0.6,"type":"quantitative","scale":{"domain":[0,49.8]},"axis":null},"x2":{"datum":15.7},"y":{"datum":-6.632,"type":"quantitative","scale":{"domain":[-8.421,27.579],"reverse":true},"axis":null},"y2":{"datum":27.53}}},
{"data":{"values":[{}]},"mark":{"type":"rect","filled":false,"color":"#a6a6a6"},"encoding":{"x":{"datum":0.6,"type":"quantitative","scale":{"domain":[0,49.8]},"axis":null},"x2":{"datum":15.7},"y":{"datum":-6.632,"type":"quantitative","scale":{"domain":[-8.421,27.579],"reverse":true},"axis":null},"y2":{"datum":-3.895}}},
{"data":{"values":[{}]},"mark":{"type":"rule","color":"#222","strokeWidth":0.7},"encoding":{"x":{"datum":6.45,"type":"quantitative","scale":{"domain":[0,49.8]},"axis":null},"x2":{"datum":9.95},"y":{"datum":-1.74,"type":"quantitative","scale":{"domain":[-8.421,27.579],"reverse":true},"axis":null}}},
{"data":{"values":[{}]},"mark":{"type":"text","fontSize":9.5,"fontWeight":"bold","fontStyle":"italic"},"encoding":{"x":{"datum":2.2,"type":"quantitative","scale":{"domain":[0,49.8]},"axis":null},"y":{"datum":-5.21,"type":"quantitative","scale":{"domain":[-8.421,27.579],"reverse":true},"axis":null},"text":{"value":"FLAC (Version 5.00)"}}},
{"data":{"values":[{}]},"mark":{"type":"text","align":"center"},"encoding":{"x":{"datum":8.2,"type":"quantitative","scale":{"domain":[0,49.8]},"axis":null},"y":{"datum":-2.25,"type":"quantitative","scale":{"domain":[-8.421,27.579],"reverse":true},"axis":null},"text":{"value":"LEGEND"}}},
{"data":{"name":"lines"},"transform":[{"filter":"datum.p=='f'"}],"mark":{"type":"text"},"encoding":{"x":{"datum":1.6,"type":"quantitative","scale":{"domain":[0,49.8]},"axis":null},"y":{"field":"n","type":"quantitative","scale":{"domain":[-8.421,27.579],"reverse":true},"axis":null},"text":{"field":"s"}}},
{"data":{"name":"bands"},"transform":[{"filter":"datum.p=='f'"}],"mark":{"type":"rect"},"encoding":{"x":{"datum":-2,"type":"quantitative","scale":{"domain":[-4.4156,2.5434]},"axis":{"orient":"bottom","offset":-17,"values":[-2,-1.75,-1.5,-1.25,-1,-0.75,-0.5,-0.25,0,0.25,0.5,0.75,1,1.25,1.5,1.75,2],"labelExpr":"abs(round(datum.value*4))%2==1?format(datum.value,'.3f'):''","labelPadding":3,"title":"(*10^1)","titleX":316,"titleY":15.5}},"x2":{"datum":2},"y":{"field":"t","type":"quantitative","scale":{"domain":[-3.4673,1.4673]},"axis":{"orient":"right","offset":-23,"values":[1,0.75,0.5,0.25,0,-0.25,-0.5,-0.75,-1,-1.25,-1.5,-1.75,-2,-2.25,-2.5,-2.75,-3],"labelExpr":"abs(round(datum.value*4))%2==1?format(datum.value,'.3f'):''","labelPadding":2,"title":"(*10^1)","titleAngle":0,"titleX":14,"titleY":10}},"y2":{"datum":-2},"color":{"field":"c","type":"nominal","scale":{"domain":["rd","pu","ye","gr","dg","cy","te","bl","db","gy","mg","sa","dt"]},"legend":null}}},
{"data":{"values":[{}]},"mark":{"type":"rect","filled":false,"color":"#a6a6a6"},"encoding":{"x":{"datum":-2.222,"type":"quantitative","scale":{"domain":[-4.4156,2.5434]},"axis":null},"x2":{"datum":2.222},"y":{"datum":-3.222,"type":"quantitative","scale":{"domain":[-3.4673,1.4673]},"axis":null},"y2":{"datum":1.222}}},
{"data":{"values":[{}]},"mark":{"type":"text","fontSize":17},"encoding":{"x":{"datum":-1.8,"type":"quantitative","scale":{"domain":[-4.4156,2.5434]},"axis":null},"y":{"datum":0.876,"type":"quantitative","scale":{"domain":[-3.4673,1.4673]},"axis":null},"text":{"value":"f)"}}},
{"data":{"values":[{}]},"mark":{"type":"text","fontSize":18,"align":"center"},"encoding":{"x":{"datum":0,"type":"quantitative","scale":{"domain":[-4.4156,2.5434]},"axis":null},"y":{"datum":-2.226,"type":"quantitative","scale":{"domain":[-3.4673,1.4673]},"axis":null},"text":{"value":"APP"}}},
{"data":{"name":"blocks"},"transform":[{"filter":"datum.p=='f'"}],"mark":{"type":"rect"},"encoding":{"x":{"datum":1.6,"type":"quantitative","scale":{"domain":[0,49.8]},"axis":null},"x2":{"datum":2.5},"y":{"field":"lo","type":"quantitative","scale":{"domain":[-1090000,620000],"reverse":true},"axis":null},"y2":{"field":"hi"},"color":{"field":"c","type":"nominal","scale":{"domain":["rd","pu","ye","gr","dg","cy","te","bl","db","gy","mg","sa","dt"]},"legend":null}}},
{"data":{"name":"labels"},"transform":[{"filter":"datum.p=='f'"}],"mark":{"type":"text","align":"right","dy":-1},"encoding":{"x":{"datum":7.1,"type":"quantitative","scale":{"domain":[0,49.8]},"axis":null},"y":{"field":"v","type":"quantitative","scale":{"domain":[-1090000,620000],"reverse":true},"axis":null},"text":{"field":"lab"}}}
]}
],
"config":{"view":{"stroke":null},"font":"Liberation Sans","range":{"category":["#b00000","#b05ab0","#ffff00","#00ff00","#00b000","#00ffff","#00b0b0","#6464ff","#0000b0","#b4b4b4","#ff00ff","#ff6464","#dcdcdc"]},"text":{"font":"Liberation Sans","fontSize":8.5,"align":"left","baseline":"middle","color":"#1a1a1a"},"axis":{"domain":false,"grid":false,"tickSize":3,"tickColor":"#888","tickWidth":0.8,"labelFont":"Liberation Sans","labelFontSize":5.5,"labelColor":"#333","labelOverlap":false,"labelFlush":false,"titleFont":"Liberation Sans","titleFontSize":5,"titleFontWeight":"normal","titleColor":"#333","titleBaseline":"middle","titleAlign":"center"}}}
